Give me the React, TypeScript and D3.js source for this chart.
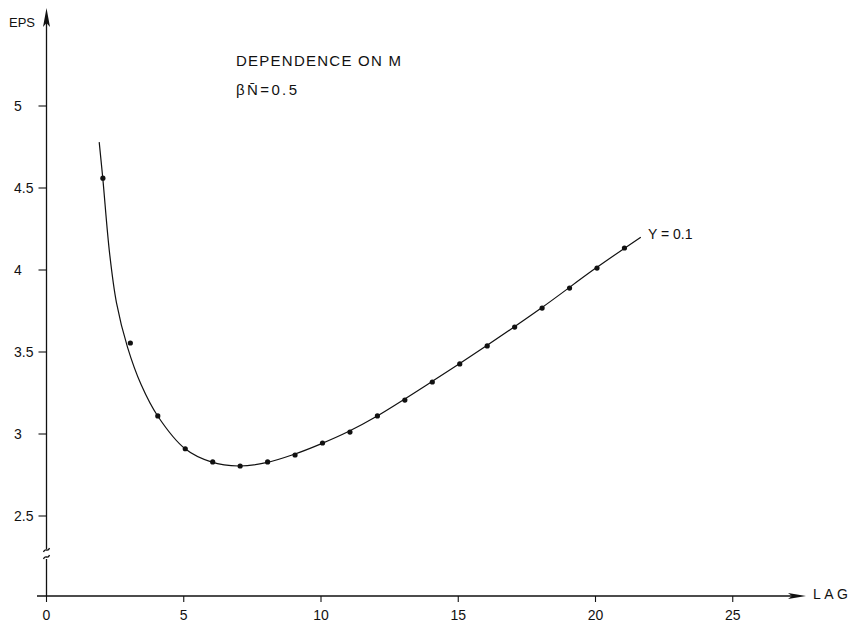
import React from "react";
import * as d3 from "d3";

// Observed points (lag, eps)
const lags = [2, 3, 4, 5, 6, 7, 8, 9, 10, 11, 12, 13, 14, 15, 16, 17, 18, 19, 20, 21];
const eps = [4.56, 3.555, 3.11, 2.91, 2.83, 2.805, 2.83, 2.872, 2.945, 3.012, 3.11, 3.207, 3.317, 3.427, 3.537, 3.652, 3.768, 3.89, 4.012, 4.134];

// Fitted smooth curve
const fitLag = [1.92, 2.05, 2.3, 2.55, 2.95, 3.45, 4.05, 5.05, 6, 7, 8, 9, 10, 11, 12, 14, 16, 18, 20, 21.65];
const fitEps = [4.78, 4.56, 4.1, 3.8, 3.53, 3.3, 3.11, 2.91, 2.83, 2.805, 2.825, 2.875, 2.94, 3.015, 3.105, 3.315, 3.535, 3.765, 4.01, 4.2];

const xTicks = [0, 5, 10, 15, 20, 25];
const yTicks = [2.5, 3, 3.5, 4, 4.5, 5];
const yTickLabels = ["2.5", "3", "3.5", "4", "4.5", "5"];

const title = "DEPENDENCE ON M";
const curveLabel = "Y = 0.1";

export default function App() {
  const x = d3.scaleLinear().domain([0, 20]).range([46.5, 595.5]);
  const y = d3.scaleLinear().domain([3, 5]).range([434, 106]);

  const axisY = 596;
  const axisX = x(0);
  const font = "'Liberation Sans', Arial, Helvetica, sans-serif";
  const ink = "#111";

  const line = d3
    .line<number>()
    .x((_, i) => x(fitLag[i]))
    .y((d) => y(d))
    .curve(d3.curveCatmullRom.alpha(0.5));

  const breakMark = (cy: number) =>
    `M${axisX - 3},${cy + 2} C${axisX - 1.5},${cy - 3} ${axisX + 1.5},${cy + 3} ${axisX + 3},${cy - 2}`;

  return (
    <svg
      width={852}
      height={622}
      style={{ position: "absolute", left: 0, top: 0, background: "#fff" }}
      fontFamily={font}
    >
      <rect x={0} y={0} width={852} height={622} fill="#fff" />
      {/* Y axis with break */}
      <line x1={axisX} y1={axisY} x2={axisX} y2={559} stroke={ink} strokeWidth={1.3} />
      <line x1={axisX} y1={549} x2={axisX} y2={22} stroke={ink} strokeWidth={1.3} />
      <path d={breakMark(550)} fill="none" stroke={ink} strokeWidth={1.3} />
      <path d={breakMark(557)} fill="none" stroke={ink} strokeWidth={1.3} />
      <path
        d={`M${axisX},8 L${axisX + 3.5},27 L${axisX},23 L${axisX - 3.5},27 Z`}
        fill={ink}
      />
      <text x={9} y={27} fontSize={13} fill={ink}>
        EPS
      </text>

      {/* X axis */}
      <line x1={37} y1={axisY} x2={800} y2={axisY} stroke={ink} strokeWidth={1.3} />
      <path
        d={`M806,${axisY} L788,${axisY - 3} L792,${axisY} L788,${axisY + 3} Z`}
        fill={ink}
      />
      <text x={813} y={599} fontSize={14} fill={ink} textLength={35} lengthAdjust="spacing">
        LAG
      </text>

      {/* X ticks */}
      {xTicks.map((t) => (
        <g key={"xt" + t}>
          <line x1={x(t)} y1={axisY} x2={x(t)} y2={axisY + 6} stroke={ink} strokeWidth={1.1} />
          <text x={x(t)} y={620} fontSize={14} textAnchor="middle" fill={ink}>
            {t}
          </text>
        </g>
      ))}

      {/* Y ticks */}
      {yTicks.map((t, i) => (
        <g key={"yt" + t}>
          <line x1={axisX - 8} y1={y(t)} x2={axisX} y2={y(t)} stroke={ink} strokeWidth={1.1} />
          <text x={14} y={y(t) + 5} fontSize={14} fill={ink}>
            {yTickLabels[i]}
          </text>
        </g>
      ))}

      {/* Fitted curve */}
      <path d={line(fitEps) || ""} fill="none" stroke={ink} strokeWidth={1.2} />

      {/* Points */}
      {lags.map((l, i) => (
        <circle key={"p" + l} cx={x(l) + 1.5} cy={y(eps[i])} r={2.6} fill={ink} />
      ))}

      {/* Labels */}
      <text x={648} y={239} fontSize={14} fill={ink}>
        {curveLabel}
      </text>
      <text x={236} y={66} fontSize={15} fill={ink} textLength={165} lengthAdjust="spacing">
        {title}
      </text>
      <text x={236} y={95} fontSize={15} fill={ink} textLength={61} lengthAdjust="spacing">
        {"βN\u0304=0.5"}
      </text>
    </svg>
  );
}
